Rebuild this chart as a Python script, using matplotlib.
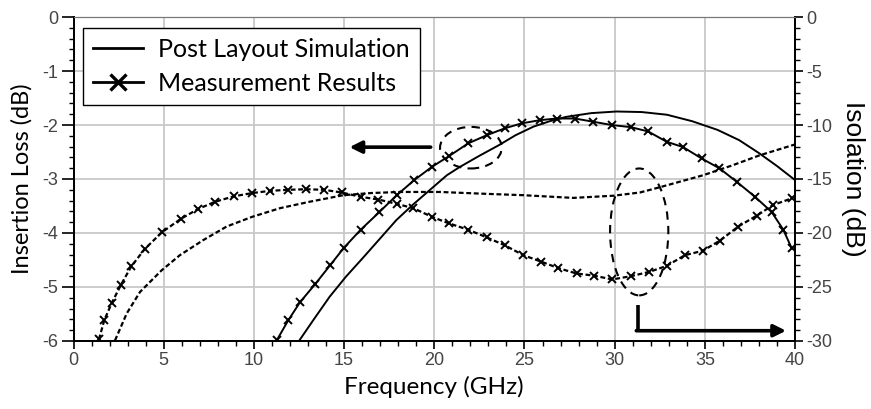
import matplotlib.pyplot as plt
from matplotlib.patches import Ellipse
from matplotlib.lines import Line2D
from matplotlib.ticker import MultipleLocator

plt.rcParams['axes.unicode_minus'] = False

# insertion loss, post layout simulation (left axis, dB)
sim_il_f = [12.5, 13.3, 14.2, 15.1, 16.1, 17.0, 17.9, 18.8, 19.8, 20.7, 21.4, 22.5, 23.6,
            24.5, 25.5, 26.4, 27.3, 28.7, 30.1, 31.5, 32.9, 34.3, 35.7, 36.9, 38.0, 39.0, 40.0]
sim_il = [-6.0, -5.61, -5.18, -4.81, -4.44, -4.10, -3.76, -3.48, -3.19, -2.93, -2.78, -2.57, -2.37,
          -2.19, -2.03, -1.93, -1.85, -1.78, -1.75, -1.76, -1.81, -1.93, -2.09, -2.28, -2.52, -2.76, -3.02]

# insertion loss, measurement (left axis, dB)
meas_il_f = [11.28, 11.9, 12.56, 13.39, 14.22, 15.0, 15.92, 16.93, 17.92, 18.89, 19.89, 20.8,
             21.88, 22.9, 23.92, 24.84, 25.86, 26.78, 27.8, 28.82, 29.83, 30.9, 31.86, 32.88,
             33.8, 34.82, 35.8, 36.76, 37.78, 38.7, 39.35, 39.81]
meas_il = [-5.98, -5.62, -5.28, -4.95, -4.60, -4.27, -3.94, -3.62, -3.30, -3.02, -2.77, -2.58,
           -2.34, -2.19, -2.06, -1.97, -1.91, -1.88, -1.88, -1.94, -2.0, -2.04, -2.12, -2.31,
           -2.41, -2.62, -2.80, -3.05, -3.33, -3.61, -3.94, -4.28]

# isolation, simulation (right axis, dB)
sim_iso_f = [2.3, 2.95, 3.69, 4.89, 5.9, 7.2, 8.49, 9.91, 11.45, 13.11, 14.96, 16.5, 18.1,
             20.3, 22.5, 24.93, 27.7, 29.92, 31.4, 32.42, 34.91, 36.5, 38.05, 39.9, 40.0]
sim_iso = [-29.95, -27.45, -25.45, -23.45, -22.05, -20.65, -19.4, -18.5, -17.7, -17.1, -16.5,
           -16.3, -16.2, -16.2, -16.35, -16.5, -16.75, -16.55, -16.25, -15.8, -14.65, -13.75,
           -12.8, -11.85, -11.8]

# isolation, measurement (right axis, dB)
meas_iso_f = [1.41, 1.71, 2.13, 2.63, 3.2, 3.94, 4.89, 5.94, 6.88, 7.86, 8.9, 9.91, 10.89,
              11.87, 12.9, 13.89, 14.86, 15.92, 16.9, 17.91, 18.84, 19.86, 20.8, 21.88, 22.9,
              23.92, 24.93, 25.92, 26.87, 27.89, 28.85, 29.87, 30.9, 31.92, 32.88, 33.9, 34.88,
              35.84, 36.85, 37.87, 38.79, 39.81]
meas_iso = [-29.85, -28.05, -26.45, -24.8, -23.1, -21.5, -19.95, -18.7, -17.8, -17.1, -16.6,
            -16.3, -16.1, -16.0, -15.95, -16.0, -16.25, -16.65, -16.9, -17.3, -17.7, -18.5,
            -19.1, -19.7, -20.4, -21.15, -22.05, -22.65, -23.25, -23.75, -23.95, -24.3, -24.0,
            -23.6, -23.05, -22.05, -21.65, -20.7, -19.4, -18.4, -17.4, -16.8]

fig = plt.figure(figsize=(8.71, 4.09), dpi=100)
ax = fig.add_axes([0.0844, 0.1663, 0.8284, 0.7921])
ax2 = ax.twinx()

lw = 1.4
dash = (0, (2.2, 1.2))
ax.plot(sim_il_f, sim_il, color='k', lw=lw)
ax.plot(meas_il_f, meas_il, color='k', lw=lw, marker='x', ms=6, mew=1.4)
ax2.plot(sim_iso_f, sim_iso, color='k', lw=1.6, linestyle=dash)
ax2.plot(meas_iso_f, meas_iso, color='k', lw=1.6, linestyle=dash, marker='x', ms=6, mew=1.4)

ax.set_xlim(0, 40)
ax.set_ylim(-6, 0)
ax2.set_ylim(-30, 0)
ax.xaxis.set_major_locator(MultipleLocator(5))
ax.xaxis.set_minor_locator(MultipleLocator(1))
ax.yaxis.set_major_locator(MultipleLocator(1))
ax.yaxis.set_minor_locator(MultipleLocator(0.2))
ax2.yaxis.set_major_locator(MultipleLocator(5))
ax2.yaxis.set_minor_locator(MultipleLocator(1))

ax.grid(True, which='major', color='#c8c8c8', lw=1.3)
ax.set_axisbelow(True)

for a in (ax, ax2):
    a.tick_params(which='major', direction='out', length=6, width=1.2, colors='k',
                  labelcolor='#444444', labelsize=13, pad=2)
    a.tick_params(which='minor', direction='out', length=3.5, width=1.0, colors='k')
    for lab in a.get_xticklabels() + a.get_yticklabels():
        lab.set_fontfamily('Liberation Sans')
    for side in ('left', 'right', 'bottom'):
        a.spines[side].set_linewidth(1.3)
    a.spines['top'].set_color('#777777')
ax.tick_params(axis='y', which='major', length=9)

ax.set_xlabel('Frequency (GHz)', family='Lato', fontsize=17.5, labelpad=5)
ax.set_ylabel('Insertion Loss (dB)', family='Lato', fontsize=17, labelpad=7)
ax2.set_ylabel('Isolation (dB)', family='Liberation Sans', fontsize=19, rotation=270, labelpad=24)

# annotations
ax.annotate('', xy=(15.3, -2.41), xytext=(19.8, -2.41),
            arrowprops=dict(arrowstyle='-|>', lw=2.6, color='k', mutation_scale=18,
                            shrinkA=0, shrinkB=0))
ax.plot([31.31, 31.31], [-5.33, -5.81], color='k', lw=2.6, solid_capstyle='butt')
ax.annotate('', xy=(39.5, -5.81), xytext=(31.2, -5.81),
            arrowprops=dict(arrowstyle='-|>', lw=2.6, color='k', mutation_scale=18,
                            shrinkA=0, shrinkB=0))
ax.add_patch(Ellipse((22.03, -2.42), 3.42, 0.77, fill=False, ec='k', lw=1.5,
                     linestyle=(0, (4, 3))))
ax.add_patch(Ellipse((31.36, -3.98), 3.23, 2.35, fill=False, ec='k', lw=1.5,
                     linestyle=(0, (4, 3))))

handles = [Line2D([], [], color='k', lw=2),
           Line2D([], [], color='k', lw=2, marker='x', ms=12, mew=2.4)]
leg = ax.legend(handles, ['Post Layout Simulation', 'Measurement Results'],
                loc='upper left', bbox_to_anchor=(0.013, 0.967), borderaxespad=0,
                prop=dict(family='Lato', size=18), fancybox=False, framealpha=1,
                edgecolor='k', handlelength=2.0, handletextpad=0.6, labelspacing=0.45,
                borderpad=0.4)
leg.get_frame().set_linewidth(1.0)

fig.savefig('out.png', dpi=100)
